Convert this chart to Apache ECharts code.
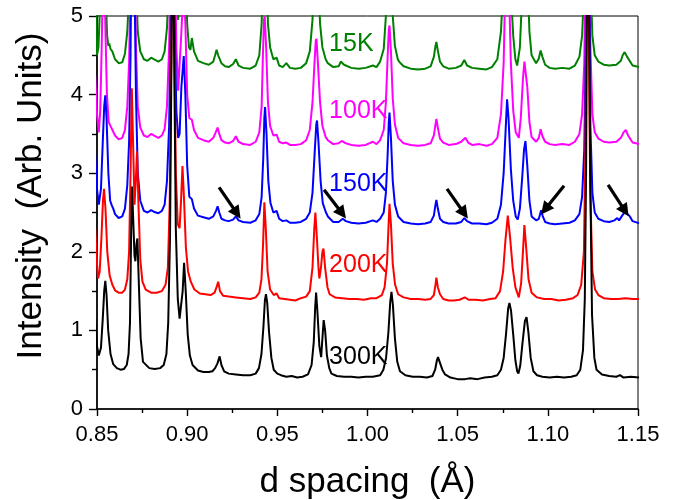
<!DOCTYPE html>
<html><head><meta charset="utf-8">
<script src="https://cdn.jsdelivr.net/npm/echarts@6/dist/echarts.min.js"></script>
</head>
<body style="margin:0;background:#fff">
<div id="c" style="width:676px;height:500px"></div>
<script>
const xTicks = [0.85, 1.15, 0.05];
const yTicks = [0, 5, 1];

const data300K = [[0.849,1.14],[0.8500,0.80],[0.8510,0.68],[0.8522,0.78],[0.8532,1.15],[0.8540,1.50],[0.8546,1.63],[0.8553,1.45],[0.8562,1.00],[0.8575,0.70],[0.859,0.57],[0.861,0.52],[0.863,0.50],[0.865,0.51],[0.8665,0.56],[0.8675,0.70],[0.8683,1.10],[0.8689,2.20],[0.8694,2.83],[0.8701,2.40],[0.8708,1.95],[0.8713,1.88],[0.8719,2.10],[0.8724,2.17],[0.8732,1.60],[0.8742,0.90],[0.8755,0.60],[0.879,0.52],[0.882,0.51],[0.885,0.52],[0.887,0.56],[0.8885,0.70],[0.8895,1.10],[0.8905,2.20],[0.8913,4.50],[0.8920,6.50],[0.8928,4.50],[0.8937,2.30],[0.8948,1.40],[0.8958,1.15],[0.8967,1.13],[0.8975,1.50],[0.8983,1.86],[0.8992,1.50],[0.9003,0.95],[0.9015,0.68],[0.903,0.56],[0.906,0.49],[0.909,0.47],[0.912,0.47],[0.914,0.48],[0.9155,0.52],[0.9168,0.58],[0.9180,0.67],[0.9190,0.56],[0.9205,0.48],[0.923,0.45],[0.927,0.44],[0.931,0.43],[0.935,0.43],[0.938,0.45],[0.9398,0.52],[0.9412,0.70],[0.9423,1.05],[0.9431,1.38],[0.9437,1.46],[0.9444,1.35],[0.9454,0.98],[0.9467,0.65],[0.948,0.50],[0.950,0.45],[0.9505,0.47],[0.952,0.43],[0.955,0.41],[0.958,0.42],[0.961,0.40],[0.964,0.41],[0.967,0.44],[0.969,0.56],[0.9702,0.85],[0.9710,1.30],[0.9715,1.48],[0.9722,1.25],[0.9733,0.80],[0.9743,0.66],[0.9750,0.90],[0.9757,1.13],[0.9765,1.00],[0.9775,0.68],[0.9788,0.52],[0.980,0.45],[0.983,0.42],[0.987,0.41],[0.991,0.41],[0.995,0.40],[0.999,0.41],[1.003,0.41],[1.007,0.43],[1.0088,0.50],[1.0103,0.65],[1.0116,0.98],[1.0126,1.36],[1.0133,1.49],[1.0141,1.32],[1.0152,0.90],[1.0165,0.60],[1.018,0.48],[1.021,0.43],[1.025,0.41],[1.029,0.41],[1.033,0.40],[1.036,0.42],[1.0375,0.50],[1.0385,0.62],[1.0391,0.66],[1.040,0.60],[1.0415,0.50],[1.043,0.44],[1.046,0.40],[1.050,0.38],[1.054,0.38],[1.057,0.39],[1.061,0.38],[1.065,0.40],[1.069,0.41],[1.072,0.43],[1.074,0.50],[1.0755,0.65],[1.0768,0.95],[1.0780,1.28],[1.0787,1.35],[1.0796,1.25],[1.0808,0.95],[1.0820,0.62],[1.0830,0.48],[1.0837,0.45],[1.0847,0.55],[1.0860,0.85],[1.0873,1.12],[1.0882,1.17],[1.0892,0.98],[1.0905,0.65],[1.092,0.48],[1.094,0.43],[1.097,0.41],[1.101,0.40],[1.105,0.41],[1.109,0.40],[1.113,0.41],[1.116,0.43],[1.118,0.50],[1.1195,0.75],[1.1205,1.40],[1.1212,3.00],[1.1218,5.50],[1.1222,7.00],[1.1228,5.50],[1.1235,3.00],[1.1245,1.20],[1.1258,0.65],[1.127,0.50],[1.130,0.44],[1.134,0.42],[1.138,0.41],[1.140,0.43],[1.142,0.40],[1.146,0.41],[1.151,0.40]];

const data200K = [[0.849,2.30],[0.8500,1.85],[0.8506,1.66],[0.8515,1.75],[0.8525,2.20],[0.8533,2.65],[0.8539,2.80],[0.8547,2.55],[0.8557,2.00],[0.8570,1.70],[0.8585,1.58],[0.860,1.51],[0.862,1.48],[0.864,1.48],[0.8655,1.52],[0.8668,1.65],[0.8678,2.00],[0.8686,3.00],[0.8693,4.08],[0.8700,3.40],[0.8708,2.60],[0.8715,2.90],[0.8722,3.28],[0.8730,2.60],[0.8740,1.90],[0.8752,1.62],[0.877,1.52],[0.880,1.48],[0.883,1.48],[0.886,1.50],[0.8880,1.58],[0.8893,1.80],[0.8903,2.60],[0.8912,4.50],[0.8920,6.50],[0.8928,4.80],[0.8937,3.00],[0.8948,2.35],[0.8958,2.30],[0.8966,2.65],[0.8974,3.09],[0.8982,2.70],[0.8993,2.05],[0.9005,1.75],[0.902,1.62],[0.904,1.52],[0.907,1.47],[0.910,1.46],[0.913,1.45],[0.9152,1.48],[0.9163,1.55],[0.9172,1.62],[0.9182,1.50],[0.920,1.44],[0.923,1.43],[0.927,1.42],[0.931,1.41],[0.935,1.40],[0.938,1.42],[0.940,1.48],[0.9412,1.65],[0.9421,2.10],[0.9428,2.63],[0.9436,2.30],[0.9446,1.75],[0.946,1.52],[0.948,1.45],[0.9496,1.47],[0.951,1.41],[0.954,1.40],[0.957,1.39],[0.960,1.38],[0.963,1.41],[0.966,1.43],[0.968,1.50],[0.9695,1.80],[0.9705,2.30],[0.9711,2.50],[0.9720,2.15],[0.9728,1.80],[0.9733,1.66],[0.9742,1.80],[0.9750,2.00],[0.9756,2.04],[0.9765,1.80],[0.9778,1.55],[0.979,1.46],[0.982,1.42],[0.986,1.41],[0.990,1.40],[0.994,1.40],[0.998,1.39],[1.002,1.41],[1.005,1.41],[1.008,1.45],[1.0095,1.55],[1.0108,1.85],[1.0117,2.35],[1.0122,2.61],[1.0130,2.35],[1.0140,1.85],[1.0153,1.58],[1.017,1.46],[1.020,1.42],[1.024,1.40],[1.028,1.40],[1.032,1.39],[1.035,1.40],[1.0368,1.45],[1.0377,1.58],[1.0382,1.67],[1.0390,1.55],[1.0402,1.46],[1.042,1.40],[1.045,1.38],[1.048,1.38],[1.051,1.39],[1.054,1.42],[1.056,1.39],[1.060,1.39],[1.064,1.38],[1.068,1.40],[1.071,1.41],[1.0735,1.50],[1.0752,1.75],[1.0765,2.15],[1.0778,2.46],[1.0790,2.20],[1.0805,1.80],[1.0820,1.55],[1.0839,1.42],[1.0852,1.60],[1.0862,2.00],[1.0870,2.34],[1.0880,2.05],[1.0893,1.65],[1.091,1.48],[1.094,1.42],[1.098,1.40],[1.102,1.40],[1.106,1.38],[1.110,1.39],[1.114,1.41],[1.1165,1.45],[1.1185,1.58],[1.1200,2.00],[1.1208,3.20],[1.1214,5.50],[1.1219,7.00],[1.1226,5.00],[1.1235,2.80],[1.1247,1.75],[1.1262,1.52],[1.128,1.45],[1.131,1.41],[1.135,1.40],[1.139,1.40],[1.143,1.41],[1.147,1.40],[1.151,1.40]];

const data150K = [[0.849,3.24],[0.8500,2.80],[0.8510,2.60],[0.8522,2.80],[0.8532,3.40],[0.8540,3.85],[0.8546,3.99],[0.8553,3.70],[0.8563,3.00],[0.8573,2.65],[0.8582,2.59],[0.8590,2.55],[0.860,2.48],[0.862,2.43],[0.864,2.45],[0.8655,2.55],[0.8668,2.85],[0.8678,3.40],[0.8686,4.50],[0.8693,6.50],[0.8700,7.00],[0.8708,5.50],[0.8716,4.00],[0.8726,3.00],[0.8740,2.65],[0.876,2.52],[0.878,2.50],[0.880,2.53],[0.8815,2.51],[0.884,2.49],[0.886,2.52],[0.8875,2.60],[0.8888,2.90],[0.8900,3.60],[0.8910,5.00],[0.8920,7.00],[0.8930,5.00],[0.8940,3.80],[0.8950,3.45],[0.8958,3.50],[0.8968,4.10],[0.8981,4.49],[0.8990,4.00],[0.9000,3.10],[0.9012,2.70],[0.9026,2.67],[0.9038,2.55],[0.906,2.46],[0.909,2.44],[0.912,2.42],[0.9145,2.45],[0.9160,2.52],[0.9169,2.58],[0.9178,2.50],[0.919,2.42],[0.921,2.40],[0.923,2.39],[0.9255,2.41],[0.9270,2.45],[0.9285,2.40],[0.931,2.38],[0.935,2.37],[0.938,2.40],[0.940,2.48],[0.9413,2.70],[0.9422,3.20],[0.9428,3.70],[0.9432,3.84],[0.9440,3.50],[0.9450,2.90],[0.9462,2.62],[0.9478,2.50],[0.9496,2.52],[0.951,2.42],[0.953,2.39],[0.955,2.40],[0.957,2.37],[0.960,2.37],[0.963,2.38],[0.966,2.42],[0.968,2.50],[0.9695,2.75],[0.9708,3.30],[0.9716,3.62],[0.9720,3.67],[0.9728,3.40],[0.9740,2.90],[0.9752,2.62],[0.9768,2.51],[0.978,2.45],[0.981,2.38],[0.984,2.38],[0.9863,2.42],[0.988,2.39],[0.991,2.37],[0.995,2.36],[0.999,2.37],[1.003,2.40],[1.005,2.38],[1.007,2.42],[1.009,2.50],[1.0102,2.75],[1.0112,3.25],[1.0118,3.65],[1.0122,3.77],[1.0130,3.45],[1.0140,2.90],[1.0152,2.60],[1.017,2.45],[1.020,2.38],[1.024,2.36],[1.028,2.35],[1.032,2.36],[1.035,2.38],[1.0368,2.46],[1.0377,2.60],[1.0382,2.66],[1.0390,2.55],[1.0402,2.42],[1.042,2.38],[1.045,2.36],[1.049,2.36],[1.052,2.38],[1.0537,2.43],[1.0552,2.39],[1.058,2.36],[1.062,2.36],[1.066,2.35],[1.069,2.37],[1.072,2.42],[1.0740,2.60],[1.0755,3.00],[1.0766,3.55],[1.0774,3.94],[1.0782,3.70],[1.0795,3.05],[1.0808,2.65],[1.0822,2.45],[1.0833,2.41],[1.0845,2.55],[1.0858,2.95],[1.0868,3.30],[1.0876,3.41],[1.0886,3.10],[1.0898,2.65],[1.091,2.45],[1.0935,2.40],[1.0950,2.42],[1.0963,2.53],[1.0972,2.45],[1.0985,2.38],[1.101,2.36],[1.104,2.35],[1.108,2.36],[1.112,2.37],[1.115,2.40],[1.1175,2.48],[1.1190,2.70],[1.1202,3.30],[1.1210,4.50],[1.1216,6.50],[1.1220,7.50],[1.1228,6.00],[1.1236,3.60],[1.1247,2.75],[1.1260,2.50],[1.128,2.42],[1.131,2.39],[1.134,2.38],[1.137,2.40],[1.1385,2.43],[1.1395,2.40],[1.1415,2.47],[1.1430,2.51],[1.1440,2.51],[1.1455,2.45],[1.147,2.39],[1.151,2.36]];

const data100K = [[0.849,4.24],[0.8500,3.75],[0.8510,3.52],[0.8518,3.80],[0.8526,4.60],[0.8533,5.50],[0.8540,5.60],[0.8547,4.80],[0.8555,4.00],[0.8565,3.65],[0.8575,3.60],[0.8585,3.58],[0.860,3.48],[0.862,3.43],[0.864,3.45],[0.8655,3.55],[0.8668,3.85],[0.8678,4.40],[0.8686,5.50],[0.8693,7.00],[0.8700,7.50],[0.8708,6.00],[0.8716,4.60],[0.8726,3.85],[0.8740,3.58],[0.876,3.48],[0.878,3.46],[0.880,3.50],[0.8815,3.48],[0.884,3.45],[0.886,3.48],[0.8875,3.56],[0.8888,3.85],[0.8900,4.60],[0.8910,6.00],[0.8920,8.00],[0.8930,6.00],[0.8940,4.60],[0.8950,4.05],[0.8958,4.05],[0.8968,4.80],[0.8980,5.40],[0.8990,4.90],[0.9000,4.00],[0.9012,3.70],[0.9026,3.68],[0.9038,3.55],[0.906,3.45],[0.909,3.42],[0.912,3.40],[0.9145,3.45],[0.9158,3.52],[0.9169,3.58],[0.9178,3.50],[0.919,3.42],[0.921,3.39],[0.923,3.38],[0.9255,3.41],[0.9270,3.47],[0.9285,3.40],[0.931,3.37],[0.935,3.36],[0.938,3.40],[0.940,3.52],[0.9413,3.85],[0.9420,4.50],[0.9426,4.95],[0.9430,5.00],[0.9438,4.60],[0.9448,3.90],[0.9460,3.60],[0.9478,3.48],[0.9496,3.49],[0.951,3.40],[0.953,3.38],[0.955,3.39],[0.957,3.36],[0.960,3.36],[0.963,3.37],[0.966,3.42],[0.968,3.55],[0.9695,3.90],[0.9706,4.40],[0.9713,4.68],[0.9717,4.71],[0.9725,4.40],[0.9737,3.90],[0.9750,3.60],[0.9768,3.46],[0.978,3.42],[0.981,3.37],[0.984,3.38],[0.9857,3.41],[0.988,3.38],[0.991,3.36],[0.995,3.35],[0.999,3.36],[1.003,3.40],[1.005,3.37],[1.007,3.42],[1.009,3.55],[1.0102,3.90],[1.0112,4.50],[1.0118,4.82],[1.0122,4.88],[1.0130,4.55],[1.0140,3.95],[1.0152,3.62],[1.017,3.45],[1.020,3.38],[1.024,3.36],[1.028,3.35],[1.032,3.36],[1.035,3.38],[1.0368,3.48],[1.0377,3.62],[1.0382,3.69],[1.0390,3.58],[1.0402,3.44],[1.042,3.39],[1.045,3.36],[1.049,3.37],[1.052,3.40],[1.0543,3.45],[1.0558,3.39],[1.058,3.36],[1.062,3.37],[1.066,3.35],[1.069,3.37],[1.072,3.45],[1.0740,3.75],[1.0755,4.40],[1.0765,5.50],[1.0774,6.20],[1.0782,5.60],[1.0795,4.40],[1.0808,3.80],[1.0822,3.52],[1.0839,3.45],[1.0850,3.70],[1.0862,4.20],[1.0870,4.42],[1.0876,4.44],[1.0886,4.10],[1.0898,3.65],[1.091,3.46],[1.0935,3.40],[1.0950,3.45],[1.0960,3.56],[1.0970,3.47],[1.0985,3.40],[1.101,3.37],[1.104,3.36],[1.108,3.37],[1.112,3.36],[1.115,3.40],[1.1175,3.50],[1.1190,3.75],[1.1202,4.40],[1.1210,5.60],[1.1216,7.50],[1.1220,8.50],[1.1228,7.00],[1.1236,4.60],[1.1247,3.75],[1.1260,3.52],[1.128,3.44],[1.131,3.40],[1.134,3.39],[1.138,3.40],[1.1405,3.45],[1.1420,3.52],[1.1432,3.55],[1.1445,3.48],[1.147,3.39],[1.151,3.37]];

const data15K = [[0.849,5.30],[0.8500,4.50],[0.8508,4.60],[0.8518,5.20],[0.8526,6.00],[0.8533,6.50],[0.8540,6.20],[0.8548,5.30],[0.8556,4.75],[0.8563,4.62],[0.8568,4.65],[0.8575,4.58],[0.8585,4.55],[0.860,4.45],[0.862,4.40],[0.864,4.41],[0.8655,4.52],[0.8668,4.80],[0.8678,5.30],[0.8686,6.50],[0.8693,8.00],[0.8700,8.50],[0.8708,7.00],[0.8716,5.50],[0.8726,4.80],[0.8740,4.55],[0.876,4.45],[0.878,4.43],[0.880,4.47],[0.8815,4.45],[0.884,4.42],[0.886,4.45],[0.8875,4.55],[0.8888,4.85],[0.8900,5.50],[0.8910,6.50],[0.8920,9.00],[0.8930,7.00],[0.8940,5.50],[0.8950,4.95],[0.8958,4.95],[0.8968,5.60],[0.8980,6.50],[0.8990,5.80],[0.9000,4.90],[0.9010,4.60],[0.9018,4.57],[0.9026,4.72],[0.9038,4.55],[0.906,4.43],[0.909,4.40],[0.912,4.38],[0.9145,4.42],[0.9155,4.50],[0.9163,4.57],[0.9172,4.50],[0.919,4.40],[0.921,4.36],[0.923,4.35],[0.9255,4.39],[0.9270,4.45],[0.9285,4.37],[0.931,4.34],[0.935,4.33],[0.938,4.37],[0.940,4.50],[0.9413,4.90],[0.9420,5.60],[0.9428,6.50],[0.9436,5.80],[0.9448,4.90],[0.9460,4.60],[0.9478,4.45],[0.9496,4.47],[0.951,4.37],[0.953,4.35],[0.955,4.40],[0.957,4.34],[0.960,4.33],[0.963,4.34],[0.966,4.40],[0.968,4.55],[0.9695,4.95],[0.9706,5.70],[0.9715,6.50],[0.9725,5.60],[0.9737,4.90],[0.9750,4.60],[0.9768,4.45],[0.978,4.40],[0.981,4.35],[0.984,4.36],[0.9852,4.42],[0.987,4.38],[0.991,4.34],[0.995,4.33],[0.999,4.34],[1.003,4.37],[1.005,4.35],[1.007,4.42],[1.009,4.58],[1.0102,5.00],[1.0112,5.80],[1.0120,6.50],[1.0130,5.80],[1.0140,5.00],[1.0152,4.62],[1.0168,4.45],[1.0175,4.42],[1.020,4.36],[1.024,4.33],[1.028,4.32],[1.032,4.33],[1.035,4.36],[1.0368,4.48],[1.0377,4.62],[1.0382,4.67],[1.0390,4.56],[1.0402,4.42],[1.042,4.36],[1.045,4.33],[1.049,4.34],[1.052,4.37],[1.0537,4.44],[1.0552,4.37],[1.058,4.34],[1.062,4.33],[1.066,4.32],[1.069,4.35],[1.072,4.45],[1.0740,4.80],[1.0755,5.50],[1.0765,6.50],[1.0774,7.00],[1.0782,6.40],[1.0795,5.30],[1.0808,4.75],[1.0820,4.45],[1.0830,4.37],[1.0845,4.60],[1.0858,5.30],[1.0868,6.00],[1.0876,6.20],[1.0886,5.60],[1.0898,4.80],[1.091,4.50],[1.0935,4.40],[1.0950,4.46],[1.0960,4.56],[1.0970,4.48],[1.0985,4.38],[1.101,4.34],[1.104,4.33],[1.108,4.34],[1.112,4.33],[1.115,4.37],[1.1175,4.48],[1.1190,4.75],[1.1202,5.40],[1.1210,6.50],[1.1220,9.00],[1.1228,7.50],[1.1236,5.50],[1.1247,4.75],[1.1260,4.50],[1.128,4.42],[1.131,4.38],[1.134,4.37],[1.138,4.38],[1.1405,4.43],[1.1415,4.50],[1.1426,4.54],[1.1440,4.48],[1.147,4.37],[1.151,4.35]];

const curveNames = ['15K', '100K', '150K', '200K', '300K'];
const curveColors = ['#008000', '#ff00ff', '#0000ff', '#ff0000', '#000000'];
const curveData = [data15K, data100K, data150K, data200K, data300K];
const labelX = 0.9787;
const labelY = [4.64, 3.79, 2.86, 1.83, 0.66];

const arrowTails = [[0.9177,2.82],[0.9759,2.79],[1.0441,2.80],[1.1090,2.84],[1.1334,2.85]];
const arrowTips  = [[0.9276,2.49],[0.9859,2.49],[1.0536,2.49],[1.0985,2.54],[1.1428,2.52]];

const FONT = '"Liberation Sans", Arial, sans-serif';
const chart = echarts.init(document.getElementById('c'), null, {renderer: 'canvas'});

const series = curveData.map((d, i) => ({
  name: curveNames[i],
  type: 'line',
  data: d,
  symbol: 'none',
  showSymbol: false,
  clip: true,
  lineStyle: {color: curveColors[i], width: 2},
  itemStyle: {color: curveColors[i]},
  z: 2 + i
}));
series.push({
  name: 'arrows',
  type: 'line',
  data: [],
  z: 20,
  markLine: {
    silent: true,
    symbol: ['none', 'triangle'],
    symbolSize: 13,
    animation: false,
    label: {show: false},
    itemStyle: {color: '#000'},
    lineStyle: {color: '#000', width: 3.2, type: 'solid'},
    emphasis: {disabled: true},
    data: arrowTails.map((t, i) => [{coord: t}, {coord: arrowTips[i]}])
  }
});

chart.setOption({
  animation: false,
  backgroundColor: '#fff',
  grid: {left: 97, right: 38, top: 16, bottom: 91, containLabel: false, outerBoundsMode: 'none',
         show: true, borderColor: '#000', borderWidth: 1, backgroundColor: 'transparent'},
  xAxis: {
    type: 'value', min: xTicks[0], max: xTicks[1], interval: xTicks[2],
    name: 'd spacing  (Å)', nameLocation: 'middle', nameGap: 56,
    nameTextStyle: {fontFamily: FONT, fontSize: 35, color: '#000'},
    axisLine: {onZero: false, lineStyle: {color: '#000', width: 1.6}},
    axisTick: {inside: false, length: 7, lineStyle: {color: '#000', width: 1.4}},
    minorTick: {show: true, splitNumber: 2, length: 4, lineStyle: {color: '#000', width: 1.4}},
    axisLabel: {fontFamily: FONT, fontSize: 22, color: '#000', margin: 15, formatter: v => v.toFixed(2)},
    splitLine: {show: false}
  },
  yAxis: {
    type: 'value', min: yTicks[0], max: yTicks[1], interval: yTicks[2],
    axisLine: {onZero: false, lineStyle: {color: '#000', width: 1.6}},
    axisTick: {inside: false, length: 8, lineStyle: {color: '#000', width: 1.4}},
    minorTick: {show: true, splitNumber: 2, length: 5, lineStyle: {color: '#000', width: 1.4}},
    axisLabel: {fontFamily: FONT, fontSize: 22, color: '#000', margin: 14},
    splitLine: {show: false}
  },
  series: series
});

const graphics = curveNames.map((n, i) => {
  const p = chart.convertToPixel({gridIndex: 0}, [labelX, labelY[i]]);
  return {type: 'text', x: p[0], y: p[1], z: 100,
    style: {text: n, fill: curveColors[i], font: '25px ' + FONT, align: 'left', verticalAlign: 'middle'}};
});
graphics.push({type: 'text', x: 31, y: 196, rotation: Math.PI / 2, z: 100,
  style: {text: 'Intensity  (Arb. Units)', fill: '#000', font: '35px ' + FONT, align: 'center', verticalAlign: 'middle'}});
chart.setOption({graphic: graphics});
</script>
</body></html>
